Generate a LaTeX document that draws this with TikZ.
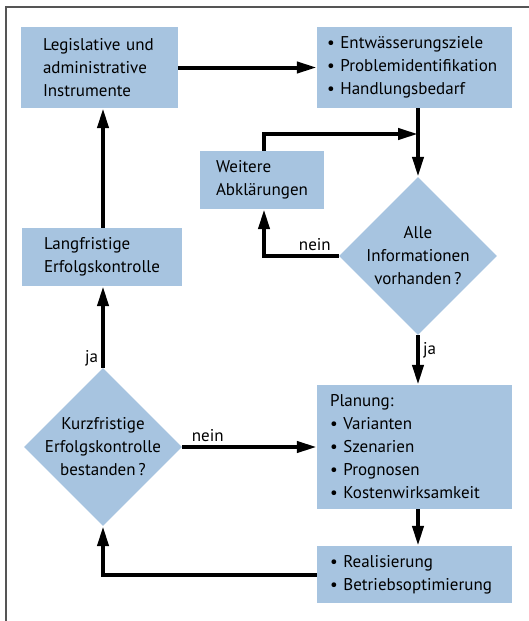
\documentclass[tikz,border=0pt]{standalone}
\usepackage{fontspec}
\setmainfont{PT Sans}
\usetikzlibrary{arrows.meta, shapes.geometric}
\definecolor{boxblue}{HTML}{A7C4E0}
\definecolor{framegray}{HTML}{555555}

\begin{document}
\begin{tikzpicture}[
    x=1pt, y=-1pt,
    font=\fontsize{17}{23}\selectfont,
    box/.style={rectangle, fill=boxblue, align=left, inner ysep=0pt},
    query/.style={diamond, fill=boxblue, align=center, inner sep=-6pt, minimum width=158pt, minimum height=158pt},
    arrow/.style={-{Triangle[length=20pt, width=11pt]}, line width=4pt},
    lbl/.style={inner sep=3pt}
  ]
  \useasboundingbox (0,0) rectangle (529,621);
  % frame
  \draw[framegray, line width=2pt] (6,621) -- (6,7) -- (529,7);

  % boxes
  \node[box, text width=113pt, inner xsep=22pt, minimum height=81pt] (legis) at (99.5,67.5)
    {Legislative und\\administrative\\Instrumente};
  \node[box, text width=175pt, inner xsep=10pt, minimum height=81pt] (ziele) at (414.5,67.5)
    {\textbullet{} Entwässerungsziele\\\textbullet{} Problemidentifikation\\\textbullet{} Handlungsbedarf};
  \node[box, text width=92pt, inner xsep=16pt, minimum height=58pt] (weitere) at (262,180)
    {Weitere\\Abklärungen};
  \node[box, text width=116pt, inner xsep=22pt, minimum height=58pt] (lang) at (102,257)
    {Langfristige\\Erfolgskontrolle};
  \node[box, text width=169pt, inner xsep=13pt, minimum height=124pt] (plan) at (414.5,447)
    {Planung:\\\textbullet{} Varianten\\\textbullet{} Szenarien\\\textbullet{} Prognosen\\\textbullet{} Kostenwirksamkeit};
  \node[box, text width=169pt, inner xsep=13pt, minimum height=57pt] (real) at (414.5,574.5)
    {\textbullet{} Realisierung\\\textbullet{} Betriebsoptimierung};

  % decisions
  \node[query] (alle) at (418,256) {Alle\\Informationen\\vorhanden\,?};
  \node[query] (kurz) at (103,447) {Kurzfristige\\Erfolgskontrolle\\bestanden\,?};

  \coordinate (merge) at (alle.north |- 0,134);

  % connectors
  \draw[arrow] (legis.east) -- (ziele.west);
  \draw[arrow] (ziele.south -| alle.north) -- (alle.north);
  \draw[arrow] (weitere.north -| 264,0) |- (merge);
  \draw[arrow] (alle.west) -| node[lbl, pos=0.16, above] {nein} (weitere.south -| 264,0);
  \draw[arrow] (alle.south) -- node[lbl, pos=0.3, right] {ja} (plan.north -| alle.south);
  \draw[arrow] (plan.south -| alle.south) -- (real.north -| alle.south);
  \draw[arrow] (real.west) -| (kurz.south);
  \draw[arrow] (kurz.east) -- node[lbl, pos=0.19, above] {nein} (plan.west);
  \draw[arrow] (kurz.north) -- node[lbl, pos=0.12, left] {ja} (lang.south -| kurz.north);
  \draw[arrow] (lang.north -| kurz.north) -- (legis.south -| kurz.north);
\end{tikzpicture}
\end{document}
